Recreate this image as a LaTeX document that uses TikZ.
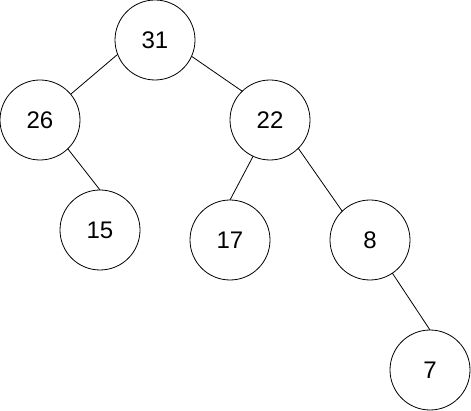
\documentclass[tikz,border=0pt]{standalone}
\usepackage{fontspec}
\setmainfont{Liberation Sans}
\usetikzlibrary{positioning}

\begin{document}
\begin{tikzpicture}[line width=0.8pt]
	
	\tikzset{node tree/.style={circle, draw=black,
			fill=white, inner sep=0pt, outer sep=0pt,
			minimum size=80pt, font=\fontsize{24}{29}\selectfont}}
	
	\useasboundingbox (0pt,0pt) rectangle (471pt,-411pt);
	
	\node[node tree] (N31) at (155pt,-40pt) {31};
	
	\node[node tree, below=0pt of N31, xshift=-115pt] (N26) {26};
	\node[node tree, below=0pt of N31, xshift=115pt] (N22) {22};
	
	\node[node tree, below=30pt of N26, xshift=60pt] (N15) {15};
	\node[node tree, below=40pt of N22, xshift=-40pt] (N17) {17};
	\node[node tree, below=40pt of N22, xshift=100pt] (N8) {8};
	
	\node[node tree, below=50pt of N8, xshift=60pt] (N7) {7};
	
	\draw[-]
	(N31.201) edge (N26.40)
	(N31.336) edge (N22.134)
	(N26.314) edge (N15.90)
	(N22.245) edge (N17.90)
	(N22.315) edge (N8.134)
	(N8.304)  edge (N7.90);
\end{tikzpicture}
\end{document}
